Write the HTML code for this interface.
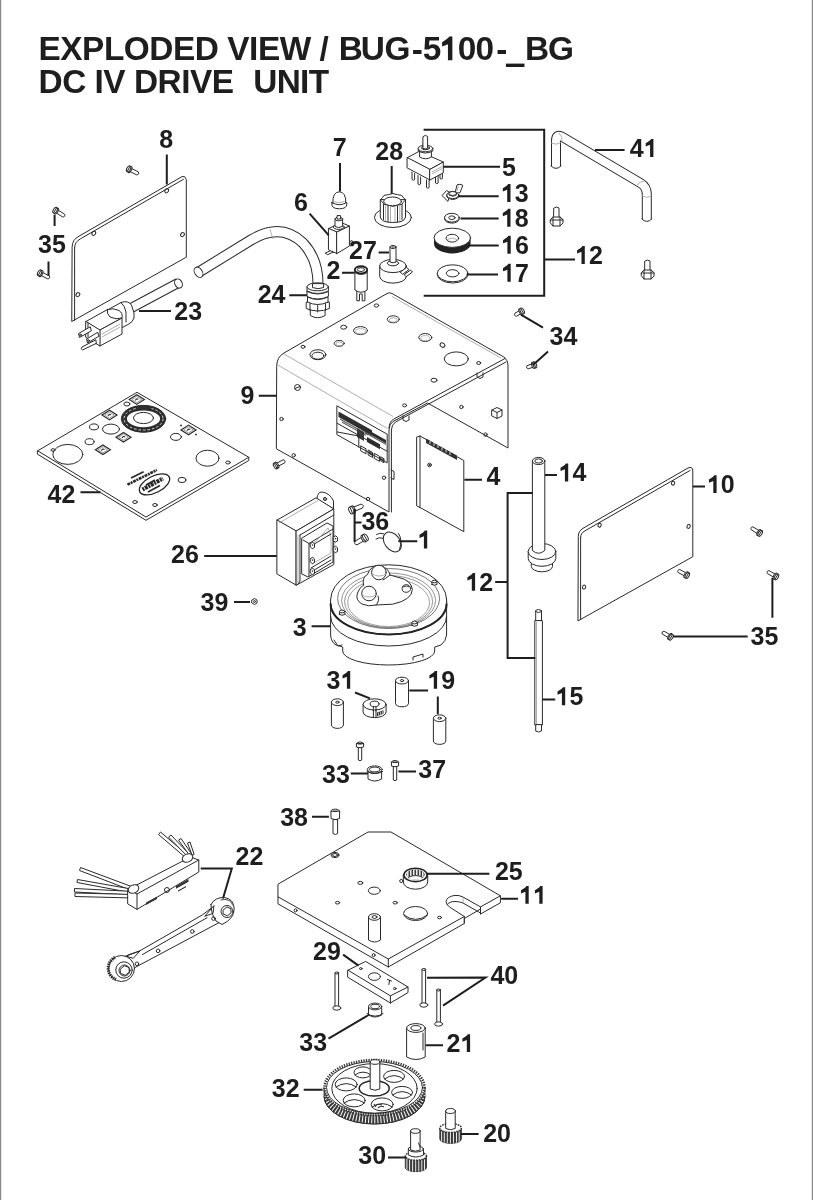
<!DOCTYPE html>
<html><head><meta charset="utf-8"><title>Exploded View BUG-5100</title>
<style>
html,body{margin:0;padding:0;background:#fff;}
body{width:813px;height:1200px;overflow:hidden;position:relative;}
svg{display:block;position:absolute;left:0;top:0;filter:grayscale(1);}
.t{font-family:"Liberation Sans",sans-serif;font-weight:bold;fill:#1e1e1e;}
.lb{font-family:"Liberation Sans",sans-serif;font-weight:bold;font-size:25px;fill:#1e1e1e;}
.ld{stroke:#1e1e1e;stroke-width:2;fill:none;}
.p{stroke:#2a2a2a;stroke-width:1;fill:#fff;stroke-linejoin:round;stroke-linecap:round;}
.pn{stroke:#2a2a2a;stroke-width:1;fill:none;stroke-linejoin:round;stroke-linecap:round;}
.th{stroke:#9a9a9a;stroke-width:.8;fill:none;}
.dk{fill:#2a2a2a;stroke:none;}
</style></head>
<body>
<svg width="813" height="1200" viewBox="0 0 813 1200">
<rect x="0" y="0" width="813" height="1200" fill="#fff"/>
<line x1="0.5" y1="0" x2="0.5" y2="1200" stroke="#8a8a8a" stroke-width="1.4"/>
<line x1="812.5" y1="0" x2="812.5" y2="1200" stroke="#8a8a8a" stroke-width="1.4"/>

<!-- TITLE -->
<text class="t" x="38.50 60.31 82.12 103.93 123.86 149.37 173.03 194.84 218.49 227.30 249.11 257.91 279.72 310.78 319.59 328.40 338.71 360.86 384.52 411.83 422.68 438.79 457.69 475.60 496.20 503.76 524.96 548.02" y="60.3 60.3 60.3 60.3 60.3 60.3 60.3 60.3 60.3 60.3 60.3 60.3 60.3 60.3 60.3 60.3 60.3 60.3 60.3 61.2 60.3 60.3 60.3 60.3 61.2 60.3 60.3 60.3" font-size="33.4" xml:space="preserve">EXPLODED VIEW / BUG-5 00- BG</text>
<path d="M795 0V1466H606Q520 1330 164 1114V852Q400 940 524 991V0Z" transform="translate(439.4 60.3) scale(0.016309 -0.016309)" fill="#1e1e1e"/>
<rect x="505.9" y="63.6" width="18.6" height="3.4" fill="#1e1e1e"/>
<text class="t" x="38.50 62.13 85.75 94.54 103.32 125.10 133.89 157.51 181.14 189.92 211.71 233.49 242.27 253.26 276.68 300.11 308.69" y="93.3" font-size="33.4" xml:space="preserve">DC IV DRIVE&#160; UNIT</text>

<!-- PARTS placeholder -->
<g id="parts">
<!-- Panel 8 -->
<path class="p" d="M72.1 247 Q72.1 239.5 79 236.2 L182 176.6 Q185 175.2 186.3 179.5 V257.2 L72.1 321.3 Z"/>
<path class="pn" d="M74.6 248 Q74.6 241.8 80.5 238.8 L183.5 179.3"/>
<path class="pn" d="M74.6 248 V320.3"/>
<ellipse class="pn" cx="166.7" cy="190.8" rx="1.7" ry="2.2" transform="rotate(35 166.7 190.8)"/>
<ellipse class="pn" cx="93.8" cy="233.3" rx="1.7" ry="2.2" transform="rotate(35 93.8 233.3)"/>
<ellipse class="pn" cx="182.5" cy="234.6" rx="1.7" ry="2.2" transform="rotate(35 182.5 234.6)"/>
<ellipse class="pn" cx="77.9" cy="294.6" rx="1.7" ry="2.2" transform="rotate(35 77.9 294.6)"/>
<!-- screw near 8 -->
<path class="p" d="M129.62 171.27 L136.75 174.90 Q139.64 174.47 138.29 171.87 L131.16 168.24 Z"/><ellipse class="p" cx="130.03" cy="169.57" rx="1.40" ry="3.30" transform="rotate(27.0 130.03 169.57)"/><ellipse class="p" cx="128.61" cy="168.85" rx="1.80" ry="3.30" transform="rotate(27.0 128.61 168.85)"/><path class="pn" d="M127.41 171.20 L129.81 166.49" stroke-width="0.8"/>
<!-- screws 35 left -->
<path class="p" d="M55.95 212.77 L62.73 217.01 Q65.65 216.83 64.53 214.13 L57.75 209.89 Z"/><ellipse class="p" cx="56.51" cy="211.12" rx="1.40" ry="3.30" transform="rotate(32.0 56.51 211.12)"/><ellipse class="p" cx="55.15" cy="210.27" rx="1.80" ry="3.30" transform="rotate(32.0 55.15 210.27)"/><path class="pn" d="M53.75 212.51 L56.55 208.03" stroke-width="0.8"/>
<path class="p" d="M40.62 275.27 L47.75 278.90 Q50.64 278.47 49.29 275.87 L42.16 272.24 Z"/><ellipse class="p" cx="41.03" cy="273.57" rx="1.40" ry="3.30" transform="rotate(27.0 41.03 273.57)"/><ellipse class="p" cx="39.61" cy="272.85" rx="1.80" ry="3.30" transform="rotate(27.0 39.61 272.85)"/><path class="pn" d="M38.41 275.20 L40.81 270.49" stroke-width="0.8"/>
<!-- cord 23 -->
<path d="M120 314 L178 283" stroke="#2a2a2a" stroke-width="10" fill="none"/>
<path d="M120 314 L178 283" stroke="#fff" stroke-width="8" fill="none"/>
<ellipse class="p" cx="178.5" cy="283.5" rx="3.6" ry="4.8" transform="rotate(-28 178.5 283.5)"/>
<path class="p" d="M99 336 L116 326 V333 L100 342.5 Z"/>
<path class="p" d="M102 313 L121 302.5 Q128 300 131.5 305 L134 313 V318 Q133 322 128 324.5 L110 334 Z"/>
<path class="pn" d="M121 302.5 Q125 306 126 312 V322"/>
<path class="p" d="M86 321.5 L107.5 309.5 L122 318 L100 330 Z"/>
<path class="p" d="M100 330 L122 318 V334 L100 346 Z"/>
<path class="p" d="M86 321.5 L100 330 V346 L86 337.5 Z"/>
<path class="pn" d="M88 323 V337"/>
<path class="p" d="M107.5 309.5 Q106 313 110 317 Q116 320 122 318 Q123 313 119 310.5 Q113 307.5 107.5 309.5 Z"/>
<path class="th" d="M102 334 L120 324 M102 337 L120 327"/>
<path class="p" d="M90 327 L78.5 333.5 L79.5 337.5 L91 331 Z"/><circle class="pn" cx="80.5" cy="335" r="0.9"/>
<path class="p" d="M97.5 332.5 L86.5 339 L87.5 343 L98.5 336.5 Z"/><circle class="pn" cx="88.5" cy="340.5" r="0.9"/>
<path class="p" d="M95.5 340 L82 347 Q80 349 82.5 350 L96 343.5 Z"/>
<!-- hose 24 -->
<path d="M199 272 L251 240 Q281 222 303 243 Q318 259 318 284" stroke="#2a2a2a" stroke-width="11" fill="none"/>
<path d="M199 272 L251 240 Q281 222 303 243 Q318 259 318 284" stroke="#fff" stroke-width="9" fill="none"/>
<ellipse class="p" cx="198.5" cy="272.3" rx="3.8" ry="5.6" transform="rotate(-32 198.5 272.3)"/>
<path class="th" d="M270 229.5 L273 239"/>
<!-- 7 cap -->
<path class="p" d="M331.8 204 Q331.5 208.8 339.3 208.8 Q347 208.8 346.8 204 V202.5 H331.8 Z"/>
<path class="p" d="M332.8 203 Q332.5 192 339.3 191.8 Q346 192 345.8 203 Q339.3 206.5 332.8 203 Z"/>
<path class="th" d="M334 201.5 Q339.3 204 344.6 201.5"/>
<!-- 6 switch -->
<path class="p" d="M325.5 253 L333 249.5 L335.5 251 L328 254.5 Z"/>
<path class="p" d="M347 243 L352 240.5 L353 242 L348 244.5 Z"/>
<path class="p" d="M328.8 228.5 L341 222.5 L349.4 226 L337 232 Z"/>
<path class="p" d="M328.8 228.5 L337 232 V253.5 L328.8 250 Z"/>
<path class="p" d="M337 232 L349.4 226 V246 L337 253.5 Z"/>
<ellipse class="p" cx="338.8" cy="227" rx="5.5" ry="2.4"/>
<path class="p" d="M335 219 V226.5 Q338.8 228.5 342.6 226.5 V219 Z"/>
<ellipse class="p" cx="338.8" cy="219" rx="3.8" ry="1.8"/>
<path class="p" d="M337 216 V219 H340.6 V216 Z"/>
<!-- 28 knob -->
<ellipse class="p" cx="392.9" cy="217.5" rx="18.5" ry="10"/>
<path class="p" d="M380.3 200 V217 Q381 222.5 392.9 222.5 Q404.8 222.5 405.5 217 V200 Z"/>
<path class="pn" d="M405.5 199.9 403.4 202.1 401.8 204.4 397.2 205.2 392.9 206.3 388.6 205.2 384.0 204.4 382.4 202.1 380.3 199.9 382.4 197.7 384.0 195.4 388.6 194.6 392.9 193.5 397.2 194.6 401.8 195.4 403.4 197.7Z"/>
<ellipse class="p" cx="392.6" cy="201.4" rx="8.9" ry="4.4"/>
<path class="pn" d="M383.5 204.5 V219.5 M388 206 V221.8 M397.5 206 V221.8 M402 204.5 V219.5"/>
<path class="th" d="M385.6 205.5 V220.8 M390.5 206.3 V222.2 M395 206.3 V222.2 M399.8 205.5 V220.8"/>
<!-- 5 toggle -->
<path class="p" d="M412 172 v7.5 q1.3 1.5 2.6 0 v-6 M418 175.5 v8.5 q1.3 1.5 2.6 0 v-7 M426.5 180 v7.5 q1.3 1.5 2.6 0 v-7 M435.5 177 v6 q1.3 1.5 2.6 0 v-7.5 M440 173.5 v5 q1.2 1.3 2.4 0 v-6"/>
<path class="p" d="M407.4 157.6 L419.2 151.3 L443.3 162 L430 169.4 Z"/>
<path class="p" d="M407.4 157.6 L430 169.4 V180 L407.4 168 Z"/>
<path class="p" d="M430 169.4 L443.3 162 V172.8 L430 180 Z"/>
<path class="th" d="M432 172 L442 166.5 M432 174 L442 168.5"/>
<path class="p" d="M419.6 150 V157 Q425.5 160.5 431.4 157 V150 Z"/>
<path class="p" d="M418.2 148.5 V151 Q425.5 155 432.8 151 V148.5 Z" stroke-width="1.3"/>
<ellipse class="p" cx="425.5" cy="148.5" rx="7.3" ry="3.3" stroke-width="1.3"/>
<ellipse class="pn" cx="425.5" cy="148" rx="4" ry="1.8"/>
<path class="p" d="M423.2 136.5 Q425.4 134 427.6 136.5 V148.5 Q425.4 149.5 423.2 148.5 Z"/>
<!-- 13 wing nut -->
<path class="p" d="M442.3 195.3 L446.6 190.5 L450.6 193.1 L448 201 Z"/>
<path class="p" d="M455 193.1 L457.1 184.8 Q460 183.5 462.8 185.3 L460.2 192.3 Z"/>
<path class="th" d="M458.5 186 L457 191"/>
<path class="p" d="M446.8 195 V197 Q452.8 202 458.8 197 V195 Z"/>
<ellipse class="p" cx="452.8" cy="195" rx="6" ry="3.6"/>
<path class="p" d="M449 193.5 V195 Q452.8 197.5 456.6 195 V193.5 Z"/>
<ellipse class="p" cx="452.8" cy="193.5" rx="3.8" ry="2"/>
<!-- 18 washer -->
<path class="p" d="M444.5 217.7 V218.7 A7.4 4.4 0 0 0 459.3 218.7 V217.7 Z"/>
<ellipse class="p" cx="451.9" cy="217.7" rx="7.4" ry="4.4"/>
<ellipse class="pn" cx="451.9" cy="217.7" rx="3.2" ry="1.8"/>
<!-- 16 thick washer -->
<path d="M434 237.8 V243.8 A18.3 9.6 0 0 0 470.6 243.8 V237.8 Z" fill="#222"/>
<ellipse class="p" cx="452.3" cy="237.8" rx="18.3" ry="9.6"/>
<ellipse class="pn" cx="452.3" cy="238.2" rx="6.3" ry="3.9"/>
<path class="th" d="M447 239.5 Q452 236.5 457 239.5"/>
<!-- 17 washer -->
<path class="p" d="M437.3 273.3 V274.5 A15.3 8.5 0 0 0 467.9 274.5 V273.3 Z"/>
<ellipse class="p" cx="452.6" cy="273.3" rx="15.3" ry="8.5"/>
<ellipse class="pn" cx="452.6" cy="273.3" rx="6.3" ry="3.6"/>
<!-- 27 pot -->
<path class="p" d="M379.7 266 V276.5 A13.3 6.6 0 0 0 406.3 276.5 V266 Z"/>
<ellipse class="p" cx="393" cy="266" rx="13.3" ry="6.6"/>
<path class="p" d="M400.5 272 l6 -4.5 l2.5 2 l-6 4.5 Z M404.5 274.5 l6 -4.5 l2 2 l-6 4.5 Z"/>
<ellipse class="p" cx="393" cy="263.2" rx="5.6" ry="2.6" stroke-width="1.5"/>
<path class="p" d="M390 247 V262 Q393 263.5 396 262 V247 Z"/>
<ellipse class="p" cx="393" cy="247" rx="3" ry="1.5"/>
<path class="pn" d="M392 247 h2"/>
<!-- 2 lamp holder -->
<path class="p" d="M356.8 291 V300.8 H359.5 V294 H362.2 V300.8 H364.9 V291 Z"/>
<path class="p" d="M354.9 270 V290 Q361 294.5 367.2 290 V270 Z"/>
<path class="pn" d="M354.9 272.5 Q361 276.5 367.2 272.5"/>
<ellipse cx="361" cy="269.8" rx="6.2" ry="3.6" fill="#fff" stroke="#222" stroke-width="1.9"/>
<ellipse class="pn" cx="361" cy="269.6" rx="3.6" ry="1.9"/>
<!-- 24 fitting -->
<path class="p" d="M310.3 308 V315.5 Q317.7 320 325.1 315.5 V308 Z"/>
<path class="p" d="M306.2 302.5 V308.5 Q317.7 313.5 329.4 308.5 V302.5 Z"/>
<path class="pn" d="M310 303.5 V310.5 M317.7 305 V312 M325.5 303.5 V310.5"/>
<path class="p" d="M307.5 297 V302 Q317.7 307 328 302 V297 Q317.7 302 307.5 297 Z"/>
<path class="p" d="M307 291.5 V296.5 Q317.7 301.5 328.4 296.5 V291.5 Q317.7 296.5 307 291.5 Z"/>
<path class="p" d="M307 286.8 V291 Q317.7 296 328.4 291 V286.8 Z"/>
<ellipse class="p" cx="317.7" cy="286.8" rx="10.7" ry="4"/>
<path class="p" d="M312.5 284 V287.5 Q318 290 323.6 287.5 V284 Z"/>
<!-- 41 handle -->
<path d="M556 166 V141 Q556 133.2 562.5 137 L640.8 183.3 Q646.8 186.9 646.8 194.5 V219" stroke="#2a2a2a" stroke-width="10" fill="none"/>
<path d="M556 166 V141 Q556 133.2 562.5 137 L640.8 183.3 Q646.8 186.9 646.8 194.5 V219" stroke="#fff" stroke-width="8" fill="none"/>
<path class="pn" d="M551 166 Q556 171 561 166"/>
<path class="pn" d="M641.8 219 Q646.8 224 651.8 219"/>
<path class="th" d="M551 143 Q556 145.5 561 142.5 M559 133 Q563 137 562 142 M636 186 Q640.5 181 644.5 181 M642 196 Q646.8 198.5 651.8 196"/>
<!-- screws near handle -->
<path class="p" d="M554 208 Q556.5 206 559 208 V220 H554 Z"/>
<path class="p" d="M550.5 219.5 L553 217 H560 L563 219.5 V223 L560 226 H553 L550.5 223 Z"/>
<path class="pn" d="M553 217 V226 M560 217 V226 M550.5 220 H563"/>
<path class="p" d="M645 261 Q647.5 259 650 261 V273 H645 Z"/>
<path class="p" d="M641.5 272.5 L644 270 H651 L654 272.5 V276 L651 279 H644 L641.5 276 Z"/>
<path class="pn" d="M644 270 V279 M651 270 V279 M641.5 273 H654"/>
<!-- screws 34 -->
<path class="p" d="M519.58 310.53 L514.82 313.28 Q513.61 315.94 516.52 316.22 L521.28 313.47 Z"/><ellipse class="p" cx="520.78" cy="311.80" rx="1.40" ry="3.30" transform="rotate(150.0 520.78 311.80)"/><ellipse class="p" cx="522.17" cy="311.00" rx="1.80" ry="3.30" transform="rotate(150.0 522.17 311.00)"/><path class="pn" d="M520.85 308.71 L523.49 313.29" stroke-width="0.8"/>
<path class="p" d="M532.32 363.89 L527.09 365.59 Q525.35 367.94 528.14 368.83 L533.37 367.13 Z"/><ellipse class="p" cx="533.23" cy="365.39" rx="1.40" ry="3.30" transform="rotate(162.0 533.23 365.39)"/><ellipse class="p" cx="534.75" cy="364.89" rx="1.80" ry="3.30" transform="rotate(162.0 534.75 364.89)"/><path class="pn" d="M533.94 362.38 L535.57 367.40" stroke-width="0.8"/>
<!-- Chassis 9 -->
<path class="p" d="M276.7 366 Q276.7 357 284 353 L387 293.5 Q389.5 292 392 293.5 L503 356.5 Q508 359.5 508 366 V448 L427.5 403 L393 421.5 Q389 424 389 430 V512 L276.7 449 Z"/>
<path class="pn" d="M505 358.5 L393.5 419.2 Q389.2 421.8 389 428"/>
<path class="pn" d="M506 362 L395.5 422 Q391.6 424.5 391.4 430 V512"/>
<path class="th" d="M284 354 L393 416.5 M277.7 365 L387.5 428.5"/>
<path class="th" d="M392 296.5 L501 358"/>
<!-- inner far panel details -->
<path class="pn" d="M492 410 l5 -2.5 l5 2.5 v6 l-5 2.5 l-5 -2.5 Z M492 410 l5 2.5 l5 -2.5 M497 412.5 v6"/>
<circle class="pn" cx="461.4" cy="407" r="1.7"/><circle class="pn" cx="485.5" cy="434.6" r="1.7"/>
<path class="pn" d="M477 373 v4 l3 1.5 l3 -1.5 v-4 M403 416 v4 l3 1.5 l3 -1.5 v-4"/>
<!-- top holes -->
<ellipse class="pn" cx="376.4" cy="305.5" rx="2.3" ry="1.6"/>
<ellipse class="pn" cx="393.3" cy="319.3" rx="6" ry="3.5"/><ellipse class="th" cx="393.3" cy="320" rx="4" ry="2.2"/>
<ellipse class="pn" cx="343.7" cy="327.2" rx="3" ry="2"/>
<ellipse class="pn" cx="360.5" cy="330.6" rx="7" ry="4"/><ellipse class="th" cx="360.5" cy="331.3" rx="5" ry="2.6"/>
<ellipse class="pn" cx="339.2" cy="343.4" rx="5" ry="3"/><ellipse class="th" cx="339.2" cy="344" rx="3.4" ry="2"/>
<ellipse class="pn" cx="303" cy="346.8" rx="2" ry="1.5"/>
<ellipse class="pn" cx="317.9" cy="354.7" rx="8" ry="5"/><ellipse class="pn" cx="317.9" cy="355.7" rx="6" ry="3.5"/>
<ellipse class="pn" cx="425.3" cy="337.5" rx="6.5" ry="4"/><ellipse class="th" cx="425.3" cy="338.2" rx="4.5" ry="2.6"/>
<ellipse class="pn" cx="442.5" cy="345.1" rx="2.5" ry="2" transform="rotate(30 442.5 345.1)"/>
<ellipse class="pn" cx="456.3" cy="358.9" rx="12" ry="7"/>
<ellipse class="pn" cx="478.7" cy="363" rx="2" ry="1.5"/>
<ellipse class="pn" cx="434" cy="380.2" rx="3" ry="2"/>
<ellipse class="pn" cx="404.6" cy="405.4" rx="2" ry="1.5"/>
<!-- left panel holes -->
<circle class="pn" cx="297.5" cy="387.5" r="3"/><path class="pn" d="M295 388.5 l5 -2"/>
<circle class="pn" cx="281.5" cy="419" r="1.7"/><circle class="pn" cx="293.7" cy="455.3" r="1.7"/>
<circle class="pn" cx="384" cy="477.7" r="1.7"/><circle class="pn" cx="368" cy="499" r="1.7"/>
<path class="pn" d="M391 470 l3 1.5 v8 l-3 -1.5"/>
<!-- label plate -->
<path class="p" d="M337.2 406 L387.2 434.2 V462.8 L337.2 434.8 Z" stroke-width="1.2"/>
<path d="M338.5 411.5 L372 430.3 V435.8 L338.5 417.0 Z" fill="#2e2e2e"/><path d="M340 418.5 L368 434.2 V435.4 L340 419.7 Z" fill="#555"/><path d="M342 421.5 L366 434.9 V436.1 L342 422.7 Z" fill="#555"/><path d="M362 426.5 L386 439.9 V443.4 L362 430.0 Z" fill="#2e2e2e"/><path d="M365 432 L386 443.8 V445.0 L365 433.2 Z" fill="#555"/><path d="M367 437 L380 444.3 V449.3 L367 442 Z" fill="#2e2e2e"/><path d="M357 428 L364 431.9 V440.9 L357 437 Z" fill="#3a3a3a"/><path class="pn" d="M337.4 423.4 L387 451.2 M358.8 435.2 V447 M337.4 432 L358.8 436"/>
<path class="pn" d="M361 446 l5 2.8 v5 l-5 -2.8 Z M368.5 450.2 l4 2.2 v5 l-4 -2.2 Z M374.5 453.5 l5 2.8 v5 l-5 -2.8 Z M381 457 l3 1.7 v4 l-3 -1.7 Z"/>
<path d="M369 451 l3 1.7 v3 l-3 -1.7 Z M381.5 458 l2.5 1.4 v2.5 l-2.5 -1.4 Z" fill="#3a3a3a"/>
<!-- screw left of chassis -->
<path class="p" d="M278.08 466.33 L284.70 462.81 Q286.01 460.19 283.11 459.81 L276.48 463.33 Z"/><ellipse class="p" cx="276.93" cy="465.02" rx="1.40" ry="3.30" transform="rotate(-28.0 276.93 465.02)"/><ellipse class="p" cx="275.52" cy="465.77" rx="1.80" ry="3.30" transform="rotate(-28.0 275.52 465.77)"/><path class="pn" d="M276.76 468.10 L274.28 463.44" stroke-width="0.8"/>
<!-- Panel 42 -->
<path class="p" d="M37.7 450.8 L137 392.3 L248.8 457.3 V460.5 L146 520.3 L37.7 454.3 Z"/>
<path class="pn" d="M37.7 450.8 L146 517 L248.8 457.3"/>
<ellipse class="pn" cx="67.8" cy="454.4" rx="15" ry="10"/>
<ellipse class="pn" cx="207.5" cy="458.2" rx="11.5" ry="8"/>
<ellipse cx="143.5" cy="418.8" rx="19.2" ry="11" fill="#fff" stroke="#2e2e2e" stroke-width="5.2"/>
<ellipse cx="143.5" cy="418.8" rx="19.5" ry="11.3" fill="none" stroke="#fff" stroke-width="0.8" stroke-dasharray="2.5 2"/>
<ellipse class="pn" cx="143.5" cy="418.8" rx="22.2" ry="13.4"/>
<ellipse class="p" cx="143.5" cy="418" rx="10" ry="5.6"/>
<path d="M136 407 l10 -1 l6 2 l-2 2 l-13 0 Z" fill="#2e2e2e"/>
<ellipse class="pn" cx="126.9" cy="404" rx="3" ry="2"/>
<ellipse class="pn" cx="94" cy="426.9" rx="4.5" ry="3"/>
<ellipse class="pn" cx="111" cy="429.1" rx="8.5" ry="5"/>
<ellipse class="pn" cx="89.6" cy="441.7" rx="4.5" ry="3"/>
<ellipse class="pn" cx="175.9" cy="436.9" rx="5.5" ry="3.5"/>
<path d="M129.3 399.6 L136.8 394.8 L144.3 399.6 L136.8 404.40000000000003 Z" fill="#fff" stroke="#2a2a2a" stroke-width="1.2"/><path d="M131.9 399.6 L136.8 396.5 L141.70000000000002 399.6 L136.8 402.70000000000005 Z" fill="none" stroke="#555" stroke-width="0.6"/><path d="M135.3 400.40000000000003 q1.5 -2.5 3 -1" fill="none" stroke="#2a2a2a" stroke-width="1.1"/><path d="M102.0 415.1 L109.5 410.3 L117.0 415.1 L109.5 419.90000000000003 Z" fill="#fff" stroke="#2a2a2a" stroke-width="1.2"/><path d="M104.6 415.1 L109.5 412.0 L114.4 415.1 L109.5 418.20000000000005 Z" fill="none" stroke="#555" stroke-width="0.6"/><path d="M108.0 415.90000000000003 q1.5 -2.5 3 -1" fill="none" stroke="#2a2a2a" stroke-width="1.1"/><path d="M116.0 437.2 L123.5 432.4 L131.0 437.2 L123.5 442.0 Z" fill="#fff" stroke="#2a2a2a" stroke-width="1.2"/><path d="M118.6 437.2 L123.5 434.09999999999997 L128.4 437.2 L123.5 440.3 Z" fill="none" stroke="#555" stroke-width="0.6"/><path d="M122.0 438.0 q1.5 -2.5 3 -1" fill="none" stroke="#2a2a2a" stroke-width="1.1"/><path d="M95.4 449.8 L102.9 445.0 L110.4 449.8 L102.9 454.6 Z" fill="#fff" stroke="#2a2a2a" stroke-width="1.2"/><path d="M98.0 449.8 L102.9 446.7 L107.80000000000001 449.8 L102.9 452.90000000000003 Z" fill="none" stroke="#555" stroke-width="0.6"/><path d="M101.4 450.6 q1.5 -2.5 3 -1" fill="none" stroke="#2a2a2a" stroke-width="1.1"/><path d="M181.0 429.9 L188.5 425.09999999999997 L196.0 429.9 L188.5 434.7 Z" fill="#fff" stroke="#2a2a2a" stroke-width="1.2"/><path d="M183.6 429.9 L188.5 426.79999999999995 L193.4 429.9 L188.5 433.0 Z" fill="none" stroke="#555" stroke-width="0.6"/><path d="M187.0 430.7 q1.5 -2.5 3 -1" fill="none" stroke="#2a2a2a" stroke-width="1.1"/>
<circle cx="181" cy="425.5" r="0.9" fill="#2a2a2a"/><circle cx="196" cy="434.5" r="0.9" fill="#2a2a2a"/>
<ellipse class="pn" cx="53" cy="450" rx="2" ry="1.3"/>
<ellipse class="pn" cx="228" cy="462.5" rx="2.3" ry="1.5"/>
<ellipse class="pn" cx="182" cy="480" rx="4" ry="2.6"/>
<ellipse class="pn" cx="135" cy="502" rx="2.3" ry="1.5"/>
<ellipse class="pn" cx="155" cy="505" rx="2.3" ry="1.5"/>
<ellipse cx="154.5" cy="484.4" rx="16.5" ry="8.3" transform="rotate(-27 154.5 484.4)" fill="none" stroke="#222" stroke-width="1.3"/>
<path d="M142.5 489.5 L163 478.5" stroke="#2a2a2a" stroke-width="4.2" stroke-dasharray="2 0.8 3 0.8" fill="none"/>
<path d="M148 492 L160 485.5 M146 485 L155 480" stroke="#2a2a2a" stroke-width="1.6" fill="none"/>
<path d="M131 478 L143.6 471.8" stroke="#2a2a2a" stroke-width="1.8" fill="none"/>
<path d="M127.4 484.7 L156.9 470" stroke="#2a2a2a" stroke-width="2.6" stroke-dasharray="3 0.7 2 0.7" fill="none"/>
<!-- PCB 4 -->
<path class="p" d="M417 437 L420 436 L463.8 460.5 V531.7 L420 507.5 L417 506 Z"/>
<path class="pn" d="M420 436 V507.5"/>
<path d="M426 438.5 L457 455.5 V460 L426 443 Z" fill="#333"/>
<path d="M430 441 v3 M434 443 v3 M438 445 v3 M442 447.5 v3 M446 449.5 v3 M450 452 v3" stroke="#fff" stroke-width="0.8"/>
<circle class="pn" cx="429.5" cy="465" r="1.8"/><circle cx="429.5" cy="465" r="0.9" fill="#2a2a2a"/>
<!-- Transformer 26 -->
<path class="p" d="M317 498 Q317.5 492 322 492 Q330 493 333.5 501 V509 L317 499 Z"/>
<circle class="pn" cx="325" cy="499" r="1.6"/><circle cx="325" cy="499" r="0.8" fill="#2a2a2a"/>
<path class="p" d="M277.2 520 L316 497.8 L333.8 508.9 L296.3 531 Z"/>
<path class="p" d="M277.2 520 L296.3 531 V585.2 L277.2 574.1 Z"/>
<path class="p" d="M296.3 531 L333.8 508.9 V564.5 L296.3 585.2 Z"/>
<path class="th" d="M279 523 L318 500.5 M298 535 V583"/>
<path class="pn" d="M300 535 L333.8 515 M300 535 V581 L298 584"/>
<path class="p" d="M302 538 L327 523 L333 526 V562 L308 577 L302 574 Z"/>
<path class="pn" d="M303 540 L309 543.5 V576 M309 543.5 L333 529"/>
<path class="th" d="M311 546 Q322 535 328 528 Q332 534 331 553 L312 564"/>
<path class="pn" d="M311 546 L331 534 M311 568 L331 556 M311 572 L331 560"/>
<path class="p" d="M310.5 543.5 l2.2 -1.2 l1.8 1.6 v3.6 l-2.2 1.2 l-1.8 -1.6 Z"/><circle cx="312.5" cy="545.1" r="0.8" fill="#333"/><path class="p" d="M310.5 558.5 l2.2 -1.2 l1.8 1.6 v3.6 l-2.2 1.2 l-1.8 -1.6 Z"/><circle cx="312.5" cy="560.1" r="0.8" fill="#333"/><path class="p" d="M310.5 569.5 l2.2 -1.2 l1.8 1.6 v3.6 l-2.2 1.2 l-1.8 -1.6 Z"/><circle cx="312.5" cy="571.1" r="0.8" fill="#333"/>
<path class="p" d="M333.5 537 l2.2 -1.2 l1.8 1.6 v3.6 l-2.2 1.2 l-1.8 -1.6 Z"/><circle cx="335.5" cy="538.6" r="0.8" fill="#333"/><path class="p" d="M333.5 547.5 l2.2 -1.2 l1.8 1.6 v3.6 l-2.2 1.2 l-1.8 -1.6 Z"/><circle cx="335.5" cy="549.1" r="0.8" fill="#333"/>
<!-- screws 36 -->
<path class="p" d="M354.49 511.26 L362.56 508.00 Q364.50 504.95 360.99 504.11 L352.92 507.37 Z"/><ellipse class="p" cx="353.22" cy="509.51" rx="1.82" ry="3.80" transform="rotate(-22.0 353.22 509.51)"/><ellipse class="p" cx="351.29" cy="510.29" rx="2.34" ry="3.80" transform="rotate(-22.0 351.29 510.29)"/><path class="pn" d="M352.43 513.11 L350.16 507.47" stroke-width="0.8"/>
<path class="p" d="M362.12 537.03 L355.02 541.13 Q353.53 544.42 357.12 544.77 L364.22 540.67 Z"/><ellipse class="p" cx="363.62" cy="538.59" rx="1.82" ry="3.80" transform="rotate(150.0 363.62 538.59)"/><ellipse class="p" cx="365.43" cy="537.55" rx="2.34" ry="3.80" transform="rotate(150.0 365.43 537.55)"/><path class="pn" d="M363.91 534.92 L366.95 540.18" stroke-width="0.8"/>
<!-- disc 1 -->
<ellipse class="p" cx="392.3" cy="542" rx="11" ry="7.6" transform="rotate(52 392.3 542)"/>
<path class="pn" d="M398.5 533.5 Q403 540 399.5 549.5" stroke-width="0.8"/>
<path class="pn" d="M376.5 534.5 q3 -2.2 7 -0.8 M376 539 q3 -2.2 7 -0.8" stroke-width="1.2"/>
<!-- nut 39 -->
<path class="p" d="M252 600 l2.5 -1.5 l2.5 1.5 v3 l-2.5 1.5 l-2.5 -1.5 Z"/><circle class="pn" cx="254.5" cy="601.5" r="1"/>
<!-- Motor 3 -->
<path class="p" d="M330.6 600 V635 Q331 642 336 645 L342.7 647 V651 A46 14 0 0 0 434.7 651 V647 L441 645 Q446 641 446.6 635 V600 Z"/>
<path class="pn" d="M330.6 616.5 A58 29.5 0 0 0 446.6 616.5"/>
<path class="pn" d="M334 640 l4 6 l4 -1 M413 660 v-3 l10 -3 v3"/>
<path class="p" d="M330.6 603.5 V600 A58 35.2 0 0 1 446.6 600 V603.5 A58 31 0 0 1 330.6 603.5 Z"/>
<path d="M330.6 603.5 A58 31 0 0 0 446.6 603.5" fill="none" stroke="#222" stroke-width="2"/>
<ellipse cx="388.6" cy="598.5" rx="51" ry="30" fill="none" stroke="#555" stroke-width="0.8"/>
<ellipse cx="388.6" cy="600.5" rx="47" ry="27.5" fill="none" stroke="#666" stroke-width="0.7"/>
<ellipse cx="388.6" cy="601.5" rx="44" ry="26" fill="none" stroke="#666" stroke-width="0.7"/>
<ellipse cx="388.6" cy="602.5" rx="41" ry="24" fill="none" stroke="#777" stroke-width="0.7"/>
<path class="p" d="M363.5 585 Q362 577 367.5 574.5 Q370 566 379 566 Q388 566.5 390 575 L399 577.6 Q411 580 412.4 589.4 Q412 600 392.6 604.2 L376 605 Q368 607 362 604 Q355 600 357.5 593 Q359 588 363.5 585 Z"/>
<path class="pn" d="M376 605 Q380 601 378 596 M390 575 Q385 579 383 580"/>
<circle class="p" cx="378.9" cy="572.5" r="7.3"/>
<path class="th" d="M372 574 Q378.9 578 386 574"/>
<circle class="p" cx="369" cy="593.5" r="7.3"/>
<path class="th" d="M362 595 Q369 599 376 595"/>
<ellipse class="p" cx="406.4" cy="588.5" rx="4.3" ry="3.8"/>
<path d="M403 587 q3.4 -2 6.8 0" fill="none" stroke="#333" stroke-width="1"/>
<path class="p" d="M339.5 614.5 v-3 q2.7 -1.6 5.4 0 v3 q-2.7 1.6 -5.4 0 Z"/><ellipse class="p" cx="342.2" cy="611.5" rx="2.7" ry="1.4"/>
<path class="p" d="M412 625.5 v-3 q2.7 -1.6 5.4 0 v3 q-2.7 1.6 -5.4 0 Z"/><ellipse class="p" cx="414.7" cy="622.5" rx="2.7" ry="1.4"/>
<path class="p" d="M432 584.5 v-3 q2.5 -1.5 5 0 v3 q-2.5 1.5 -5 0 Z"/><ellipse class="p" cx="434.5" cy="581.5" rx="2.5" ry="1.3"/>
<!-- Rod 14 -->
<path class="p" d="M531.3 563 V566.3 A10.6 5.5 0 0 0 552.5 566.3 V563 Z"/>
<path class="p" d="M528.2 551.5 V558.3 A13.8 8 0 0 0 555.8 558.3 V551.5 Z"/>
<ellipse class="p" cx="542" cy="551.5" rx="13.8" ry="8"/>
<path class="p" d="M532.4 461 V550.5 Q538.6 556 544.8 550.5 V461 Z"/>
<ellipse class="p" cx="538.6" cy="461" rx="6.2" ry="3.6"/>
<ellipse class="pn" cx="538.6" cy="461" rx="3.8" ry="2.1"/>
<!-- Rod 15 -->
<path class="p" d="M535.7 611 V621 H541.5 V611 Z"/><ellipse class="p" cx="538.6" cy="611" rx="2.9" ry="1.4"/>
<path class="p" d="M534.8 621 V725 H542.4 V621 Z"/>
<path class="th" d="M536.5 622 V724"/>
<path class="p" d="M535.7 725 V731 Q538.6 733 541.5 731 V725 Z"/>
<!-- Panel 10 -->
<path class="p" d="M578.3 536 Q578.3 531 583 528.3 L688 468 Q692.8 466 692.8 471 V556.7 L578.3 620.7 Z"/>
<path class="pn" d="M580.6 537.5 Q580.6 533 585 530.8 L690 470.5"/>
<path class="pn" d="M580.6 537.5 V619.5"/>
<ellipse class="pn" cx="673.1" cy="483.2" rx="1.6" ry="2" transform="rotate(20 673.1 483.2)"/>
<ellipse class="pn" cx="599.6" cy="525.2" rx="1.6" ry="2" transform="rotate(20 599.6 525.2)"/>
<ellipse class="pn" cx="688.6" cy="526.4" rx="1.6" ry="2" transform="rotate(20 688.6 526.4)"/>
<ellipse class="pn" cx="584.1" cy="587.1" rx="1.6" ry="2" transform="rotate(20 584.1 587.1)"/>
<!-- screws 35 right -->
<path class="p" d="M759.35 530.83 L752.99 526.85 Q750.07 527.03 751.19 529.74 L757.55 533.71 Z"/><ellipse class="p" cx="758.79" cy="532.48" rx="1.40" ry="3.30" transform="rotate(212.0 758.79 532.48)"/><ellipse class="p" cx="760.15" cy="533.33" rx="1.80" ry="3.30" transform="rotate(212.0 760.15 533.33)"/><path class="pn" d="M761.55 531.09 L758.75 535.57" stroke-width="0.8"/>
<path class="p" d="M686.32 573.03 L679.69 569.51 Q676.79 569.89 678.10 572.51 L684.72 576.03 Z"/><ellipse class="p" cx="685.87" cy="574.72" rx="1.40" ry="3.30" transform="rotate(208.0 685.87 574.72)"/><ellipse class="p" cx="687.28" cy="575.47" rx="1.80" ry="3.30" transform="rotate(208.0 687.28 575.47)"/><path class="pn" d="M688.52 573.14 L686.04 577.80" stroke-width="0.8"/>
<path class="p" d="M775.58 574.33 L769.09 570.58 Q766.18 570.86 767.39 573.52 L773.88 577.27 Z"/><ellipse class="p" cx="775.08" cy="576.00" rx="1.40" ry="3.30" transform="rotate(210.0 775.08 576.00)"/><ellipse class="p" cx="776.47" cy="576.80" rx="1.80" ry="3.30" transform="rotate(210.0 776.47 576.80)"/><path class="pn" d="M777.79 574.51 L775.15 579.09" stroke-width="0.8"/>
<path class="p" d="M670.18 634.73 L664.12 631.23 Q661.21 631.51 662.42 634.17 L668.48 637.67 Z"/><ellipse class="p" cx="669.68" cy="636.40" rx="1.40" ry="3.30" transform="rotate(210.0 669.68 636.40)"/><ellipse class="p" cx="671.07" cy="637.20" rx="1.80" ry="3.30" transform="rotate(210.0 671.07 637.20)"/><path class="pn" d="M672.39 634.91 L669.75 639.49" stroke-width="0.8"/>
<!-- spacers 19 -->
<path class="p" d="M395.5 680.6 V703.4 A6.5 3.4 0 0 0 408.5 703.4 V680.6 Z"/><ellipse class="p" cx="402" cy="680.6" rx="6.5" ry="3.4"/><ellipse class="pn" cx="402" cy="680.6" rx="1.7" ry="1"/>
<path class="p" d="M331.4 702.1999999999999 V725.0 A6 3.4 0 0 0 343.4 725.0 V702.1999999999999 Z"/><ellipse class="p" cx="337.4" cy="702.1999999999999" rx="6" ry="3.4"/><ellipse class="pn" cx="337.4" cy="702.1999999999999" rx="1.7" ry="1"/>
<path class="p" d="M433.40000000000003 718.1999999999999 V741.0 A6.2 3.4 0 0 0 445.8 741.0 V718.1999999999999 Z"/><ellipse class="p" cx="439.6" cy="718.1999999999999" rx="6.2" ry="3.4"/><ellipse class="pn" cx="439.6" cy="718.1999999999999" rx="1.7" ry="1"/>
<!-- collar 31 -->
<path class="p" d="M363.1 704.4 V712 A11.5 5.6 0 0 0 386.1 712 V704.4 Z"/>
<ellipse class="p" cx="374.6" cy="704.4" rx="11.5" ry="5.6"/>
<ellipse class="pn" cx="374.6" cy="703.9" rx="4.5" ry="2.8"/>
<path class="pn" d="M373.4 706.6 V711 M376 706.6 V711 M373.4 710 V717.5 M376 710 V717.5"/>
<path d="M377 712.5 l6.5 -2.2 v3.5 l-6.5 2.4 Z" fill="#333"/>
<path d="M378.5 712.5 v3 M380.5 711.8 v3 M382.3 711.2 v3" stroke="#fff" stroke-width="0.6"/>
<!-- screw above 33 -->
<ellipse class="p" cx="360" cy="744" rx="3.6" ry="2"/><path class="p" d="M356.4 744 V747 Q360 749 363.6 747 V744 Z"/>
<path class="p" d="M358.3 748 V760 Q360 761.5 361.7 760 V748 Z"/>
<path class="pn" d="M358.5 744 h3"/>
<!-- bushing 33 -->
<path class="p" d="M368 770 V779 Q374.8 783 381.6 779 V770 Z"/>
<ellipse class="p" cx="374.8" cy="769.5" rx="7.5" ry="3.6"/>
<ellipse class="pn" cx="374.8" cy="769.5" rx="5.5" ry="2.4"/>
<path class="pn" d="M367 771.5 Q374.8 776 382.6 771.5"/>
<!-- screw 37 -->
<ellipse class="p" cx="395" cy="762.5" rx="3.6" ry="2"/><path class="p" d="M391.4 762.5 V766 Q395 768 398.6 766 V762.5 Z"/>
<path class="p" d="M393.3 767 V780 Q395 781.5 396.7 780 V767 Z"/>
<path class="pn" d="M393.5 762.5 h3"/>
<!-- screw 38 -->
<ellipse class="p" cx="335.3" cy="811.5" rx="4.3" ry="2.3"/><path class="p" d="M331 811.5 V818.5 Q335.3 821 339.6 818.5 V811.5 Z"/>
<path class="pn" d="M333.5 811.5 h3.6"/>
<path class="p" d="M333 820 V833.5 Q335.3 835.5 337.6 833.5 V820 Z"/>
<!-- Plate 11 -->
<path class="p" d="M278.3 884 L368 832 H391 L500.4 895.8 V902.8 L480.5 914 V909 L464.3 918.5 V923.5 L388.3 967 L278.3 904 Z"/>
<path class="pn" d="M278.3 897 L388.3 959 L464.3 916.5 M388.3 959 V967 M464.3 916.5 V923"/>
<path class="pn" d="M500.4 895.8 L480.5 906.9 V914 M480.5 906.9 L463 897 Q459 895 455 895.4 Q447 896.5 446 901.5 Q446.5 905 449.5 907 L464.3 916.5"/>
<path class="pn" d="M447.5 904.5 Q449 901.5 455 901.5 Q460 901.5 463 903 L480.5 913"/>
<path class="th" d="M463 897 V903"/>
<circle class="pn" cx="295.6" cy="910.4" r="1.5"/><circle class="pn" cx="373.6" cy="955.1" r="1.5"/>
<ellipse class="p" cx="335" cy="855" rx="4" ry="2.6"/><ellipse class="pn" cx="335" cy="855" rx="2.4" ry="1.5"/>
<ellipse class="pn" cx="374.3" cy="890.7" rx="6" ry="3.6"/>
<ellipse class="pn" cx="360.3" cy="882.9" rx="2.5" ry="1.5"/>
<ellipse class="pn" cx="337.5" cy="902.7" rx="2.2" ry="1.3"/>
<ellipse class="pn" cx="395.2" cy="902.7" rx="2.2" ry="1.3"/>
<ellipse class="pn" cx="439.5" cy="917.5" rx="2" ry="1.3"/>
<ellipse class="pn" cx="415.6" cy="913.5" rx="12" ry="7"/>
<path class="pn" d="M404 915 Q415.6 924 427.5 915"/>
<!-- spacer on plate -->
<path class="p" d="M368.5 917 V940 Q374.5 944 380.5 940 V917 Z"/><ellipse class="p" cx="374.5" cy="917" rx="6" ry="3.3"/><ellipse class="pn" cx="374.5" cy="917" rx="2.5" ry="1.4"/>
<!-- bearing 25 -->
<path class="p" d="M403.3 874.9 V882 A12.2 7.2 0 0 0 427.7 882 V874.9 Z"/>
<ellipse cx="415.5" cy="874.9" rx="11.6" ry="6.7" fill="#fff" stroke="#222" stroke-width="1.6"/>
<clipPath id="brg"><ellipse cx="415.5" cy="874.6" rx="9.2" ry="5"/></clipPath>
<ellipse cx="415.5" cy="874.6" rx="9.2" ry="5" fill="#3a3a3a"/>
<g clip-path="url(#brg)" stroke="#fff" stroke-width="1.4"><path d="M407.8 868V882M410.8 868V882M413.8 868V882M416.8 868V882M419.8 868V882M422.8 868V882"/>
<ellipse cx="415.5" cy="879.2" rx="8" ry="3.6" fill="#fff" stroke="#333" stroke-width="1"/></g>
<circle class="p" cx="401.3" cy="881" r="1.6"/>
<!-- Tools 22 : hex keys -->
<path class="p" d="M133 891 L79.5 870.5 L80.5 867.5 L134 887.5 Z"/>
<path class="p" d="M133 893 L77 882.5 L77.5 879.5 L134 889.5 Z"/>
<path class="p" d="M133 895 L74.5 892 L74.5 888.5 L134 891.5 Z"/>
<path class="p" d="M133 898 L75 896.5 L75 893 L134 894.5 Z"/>
<path class="p" d="M186 858 L158.5 834.5 L160.5 832 L188 855.5 Z"/>
<path class="p" d="M188 857 L168.5 837 L171 835 L190 855 Z"/>
<path class="p" d="M190 856 L178.5 840 L181 838.5 L192 854.5 Z"/>
<path class="p" d="M192 855 L187.5 843 L190 842 L194 854 Z"/>
<path class="p" d="M128 889.5 L190.5 857 L198.8 860 V872 L137 909.4 L128 904 Z"/>
<path class="pn" d="M128 889.5 L137 894 L198.8 860 M137 894 V909.4"/>
<ellipse class="p" cx="133.5" cy="889" rx="5.5" ry="4" transform="rotate(-25 133.5 889)"/>
<ellipse class="p" cx="187.5" cy="858" rx="5.5" ry="4" transform="rotate(-25 187.5 858)"/>
<path d="M146 902.5 l11 -6 v2.6 l-11 6 Z M176 886 l12.5 -7 v2.8 l-12.5 7 Z M178 890.5 l8 -4.5 v1.2 l-8 4.5 Z" fill="#333"/>
<circle class="pn" cx="167" cy="890" r="2.5"/>
<!-- wrench -->
<path class="p" d="M128 955 L139.7 950.9 L202.4 914.9 L214 906 L222 921 L135 967.5 L126 972 Z"/>
<path class="pn" d="M142.4 954.6 L207 917.7"/>
<path class="p" d="M211 904.5 Q215 897 224.5 897.5 Q234 899 234.2 909 Q234 919 222 924.5 L216 921 Q211 914 211 904.5 Z"/>
<path class="pn" d="M221 900 Q230 898 232.5 905" stroke-width="2.2" stroke-dasharray="1.2 0.9"/>
<circle class="p" cx="227" cy="911.5" r="6"/>
<path class="pn" d="M223.3 910 l3.6 -3 l4 1.6 l0.2 4.2 l-3.6 3 l-4 -1.6 Z"/>
<path class="pn" d="M205 916 L214 905.5 L213 913 Z"/>
<circle class="p" cx="121.5" cy="968.5" r="13"/>
<path d="M115 957.5 A12 12 0 0 0 116 979.5" fill="none" stroke="#2a2a2a" stroke-width="3.2" stroke-dasharray="1.3 0.9"/>
<circle class="p" cx="124" cy="970" r="8.2"/>
<circle class="pn" cx="124.5" cy="970.5" r="5.5"/>
<path class="pn" d="M120.5 969 l4 -3.3 l4.5 1.8 l0.3 4.5 l-4 3.3 l-4.5 -1.8 Z"/>
<path class="pn" d="M126 956 L140 951 L133.5 958 Z"/>
<circle class="pn" cx="213.5" cy="918.6" r="1.8"/><circle class="pn" cx="192.3" cy="931.5" r="1.8"/>
<circle class="pn" cx="158.1" cy="950.9" r="1.8"/><circle class="pn" cx="136.9" cy="963.8" r="1.8"/>
<!-- Block 29 -->
<path class="p" d="M348 970.2 L365.6 961.4 L408 987 V992.6 L390.4 1003 L348 977.4 Z"/>
<path class="pn" d="M348 970.2 L390.4 995.8 L408 987 M390.4 995.8 V1003"/>
<ellipse class="pn" cx="374.4" cy="976.6" rx="6" ry="3.8"/>
<ellipse class="pn" cx="360.8" cy="968.6" rx="1.3" ry="1"/><ellipse class="pn" cx="394.8" cy="988.6" rx="1.3" ry="1"/>
<path class="pn" d="M387.5 979.5 l4 1.6 M389.5 980.3 l-0.6 4.2"/>
<!-- pins 40 -->
<path class="p" d="M335 973 V1007 H338.6 V973 Z"/><ellipse class="p" cx="336.8" cy="973" rx="1.8" ry="1"/>
<ellipse class="p" cx="336.8" cy="1008" rx="4" ry="2.2"/>
<path class="p" d="M422 969.5 V1004 H425.6 V969.5 Z"/><ellipse class="p" cx="423.8" cy="969.5" rx="1.8" ry="1"/>
<ellipse class="p" cx="423.8" cy="1005" rx="4" ry="2.2"/>
<path class="p" d="M436.8 990 V1023 H440.4 V990 Z"/><ellipse class="p" cx="438.6" cy="990" rx="1.8" ry="1"/>
<ellipse class="p" cx="438.6" cy="1024" rx="4" ry="2.2"/>
<!-- bushing 33 lower -->
<path class="p" d="M368.5 1006.5 V1015 Q375.1 1019 381.7 1015 V1006.5 Z"/>
<ellipse class="p" cx="375.1" cy="1006.5" rx="6.6" ry="3.4"/>
<ellipse class="pn" cx="375.1" cy="1006.5" rx="4.4" ry="2.2"/>
<path class="pn" d="M367 1013.5 Q375.1 1019 383 1013.5"/>
<!-- sleeve 21 -->
<path class="p" d="M406.6 1028 V1057 Q415.9 1062 425.2 1057 V1028 Z"/>
<ellipse class="p" cx="415.9" cy="1028" rx="9.3" ry="4.4"/>
<ellipse class="pn" cx="415.9" cy="1028" rx="5" ry="2.4"/>
<path class="pn" d="M423 1033 V1050"/>
<!-- Gear 32 -->
<clipPath id="gclip"><path d="M324.0 1087.5 A50.5 28 0 0 0 425.0 1087.5 V1096.0 A50.5 28 0 0 1 324.0 1096.0 Z"/></clipPath>
<path d="M324.0 1087.5 A50.5 28 0 0 0 425.0 1087.5 V1096.0 A50.5 28 0 0 1 324.0 1096.0 Z" fill="#3c3c3c" stroke="#2a2a2a" stroke-width="0.8"/>
<ellipse cx="374.5" cy="1092.25" rx="50.5" ry="28" fill="none" stroke="#fff" stroke-width="11.5" stroke-dasharray="1 2.1" clip-path="url(#gclip)"/>
<path d="M324.0 1096.0 A50.5 28 0 0 0 425.0 1096.0" fill="none" stroke="#2a2a2a" stroke-width="1"/>
<ellipse cx="374.5" cy="1087.5" rx="50.0" ry="27.5" fill="#fff" stroke="#333" stroke-width="2.6" stroke-dasharray="1.3 1.2"/>
<ellipse class="pn" cx="374.5" cy="1087.5" rx="48.0" ry="26"/>
<ellipse class="pn" cx="374.5" cy="1088.4" rx="42.7" ry="24.8" stroke-width="1.3"/>
<ellipse class="pn" cx="346.2" cy="1084.4" rx="11" ry="6.5"/><path class="pn" d="M336 1087 Q346.2 1080 356.4 1087"/>
<ellipse class="pn" cx="363" cy="1072.4" rx="9" ry="5.5"/><path class="pn" d="M355 1075 Q363 1069 371 1075"/>
<ellipse class="pn" cx="394.1" cy="1076.4" rx="10.5" ry="6"/><path class="pn" d="M384.5 1079 Q394.1 1072 403.7 1079"/>
<ellipse class="pn" cx="402.1" cy="1092.4" rx="10.5" ry="6"/><path class="pn" d="M392.5 1095 Q402.1 1088 411.7 1095"/>
<ellipse class="pn" cx="354.2" cy="1100.4" rx="11" ry="6.5"/><path class="pn" d="M344 1103 Q354.2 1096 364.4 1103"/>
<ellipse class="pn" cx="382.2" cy="1104.4" rx="11" ry="6.5"/><path class="pn" d="M372 1107 Q382.2 1100 392.4 1107"/>
<path d="M375 1106 q3 -3 7 -1 M378 1108 q3 -3 6 -1 M374 1104 l2 3" fill="none" stroke="#333" stroke-width="1.1"/>
<ellipse cx="374.2" cy="1088.4" rx="15" ry="7.7" fill="#fff" stroke="#222" stroke-width="1.5"/>
<path class="p" d="M370.2 1062 V1089 Q375 1091.5 379.8 1089 V1062 Z"/>
<ellipse class="p" cx="375" cy="1062" rx="4.8" ry="2.3"/>
<!-- pinion 20 -->
<clipPath id="p20c"><path d="M439.8 1128 A10.8 4.4 0 0 0 461.40000000000003 1128 V1139 A10.8 4.4 0 0 1 439.8 1139 Z"/></clipPath>
<path d="M439.8 1128 A10.8 4.4 0 0 0 461.40000000000003 1128 V1139 A10.8 4.4 0 0 1 439.8 1139 Z" fill="#3c3c3c" stroke="#2a2a2a" stroke-width="0.8"/>
<g clip-path="url(#p20c)" stroke="#fff" stroke-width="0.9"><path d="M441.6 1126 V1145"/><path d="M444.3 1126 V1145"/><path d="M447.3 1126 V1145"/><path d="M450.4 1126 V1145"/><path d="M453.5 1126 V1145"/><path d="M456.5 1126 V1145"/><path d="M459.2 1126 V1145"/></g>
<ellipse cx="450.6" cy="1128" rx="10.8" ry="4.4" fill="#fff" stroke="#333" stroke-width="1.5" stroke-dasharray="1.6 1"/>
<path class="p" d="M445.7 1111 V1128.5 Q450.5 1131 455.2 1128.5 V1111 Z"/>
<ellipse class="p" cx="450.5" cy="1111" rx="4.8" ry="2.5"/>
<!-- pinion 30 -->
<clipPath id="p30c"><path d="M405.29999999999995 1156 A10.6 4.2 0 0 0 426.5 1156 V1167.5 A10.6 4.2 0 0 1 405.29999999999995 1167.5 Z"/></clipPath>
<path d="M405.29999999999995 1156 A10.6 4.2 0 0 0 426.5 1156 V1167.5 A10.6 4.2 0 0 1 405.29999999999995 1167.5 Z" fill="#3c3c3c" stroke="#2a2a2a" stroke-width="0.8"/>
<g clip-path="url(#p30c)" stroke="#fff" stroke-width="0.9"><path d="M406.9 1154 V1173.5"/><path d="M409.6 1154 V1173.5"/><path d="M412.6 1154 V1173.5"/><path d="M415.7 1154 V1173.5"/><path d="M418.8 1154 V1173.5"/><path d="M421.8 1154 V1173.5"/><path d="M424.5 1154 V1173.5"/></g>
<ellipse cx="415.9" cy="1156" rx="10.6" ry="4.2" fill="#fff" stroke="#333" stroke-width="1.5" stroke-dasharray="1.6 1"/>
<path class="p" d="M408.3 1149 V1155 Q415.9 1159 423.5 1155 V1149 Z"/>
<ellipse class="p" cx="415.9" cy="1149" rx="7.6" ry="3"/>
<path class="p" d="M410.6 1131 V1150 Q415.4 1152.5 420.1 1150 V1131 Z"/>
<ellipse class="p" cx="415.4" cy="1131" rx="4.8" ry="2.3"/>
<path class="pn" d="M418.5 1143 l1.5 4"/>
<!--PARTS_END-->
</g>

<!-- LEADERS -->
<g class="ld">
<path d="M166.8 154.4V184.5M340 163V191.5M391.7 166V193.8M443.3 166.7H500M595 150H624.6"/>
<path d="M309.6 213.6L328.8 235.3M458 196.3H498.7M460.5 218.4H498.7M468 245.5H498.7M466.7 274.6H498"/>
<path d="M423.6 129.8H544.2V295.8H423.7M544.2 259.4H575"/>
<path d="M54.6 214.7V226M48.5 261.4V276M378.6 252.4H389M342 272.7H354.6M289.3 295.3H306.9M139 311H171"/>
<path d="M543 327.7L520.9 314.7M548 351.6L533 365M258.8 395.7H276.8M464.4 479.8H482M545 475H557"/>
<path d="M532.6 493.1H507.6V657.9H535.3M495.2 582H507.6M692.8 486.6H705M80.5 492.3H100.5"/>
<path d="M354.6 509V542M354.6 522.4H361.5M398.3 541.2H417.3M204.2 556H276.7M234 602H250M311.6 626.2H330.6"/>
<path d="M673.3 636.6H747.7M772.4 578V617.7M355 692.5L369.9 698.4M409.3 690.5H428M437.8 696.4V714M542.4 699.5H555.2"/>
<path d="M350.8 773.6H368M398.4 771.6H416M312 816.8H328.9M200.7 868.5H231.8L223 898.5M427 873.8H489.4M501.2 898.8H518"/>
<path d="M343.1 954.6L358.5 965.6M427 977.8L485.5 977.5L443 1005.6M328.5 1038.7L368.6 1015M425.5 1045.2H443M303.7 1089.8H322.6M460.9 1133.9H478.6M388 1157.5H406.3"/>
</g>

<!-- LABELS -->
<g class="lb">
<text transform="translate(159.30 147.65) scale(1 1.035)">8</text>
<text transform="translate(332.80 156.00) scale(1 1.035)">7</text>
<text transform="translate(375.30 159.65) scale(1 1.035)">28</text>
<text transform="translate(502.00 175.65) scale(1 1.035)">5</text>
<text transform="translate(629.80 156.90) scale(1 1.035)">4</text>
<text transform="translate(293.90 210.75) scale(1 1.035)">6</text>
<text transform="translate(514.70 201.95) scale(1 1.035)">3</text>
<text transform="translate(514.70 226.65) scale(1 1.035)">8</text>
<text transform="translate(514.90 253.75) scale(1 1.035)">6</text>
<text transform="translate(514.90 281.75) scale(1 1.035)">7</text>
<text transform="translate(589.00 263.90) scale(1 1.035)">2</text>
<text transform="translate(38.00 253.10) scale(1 1.035)">35</text>
<text transform="translate(349.00 259.40) scale(1 1.035)">27</text>
<text transform="translate(326.50 279.30) scale(1 1.035)">2</text>
<text transform="translate(257.70 302.90) scale(1 1.035)">24</text>
<text transform="translate(174.30 319.80) scale(1 1.035)">23</text>
<text transform="translate(549.50 344.90) scale(1 1.035)">34</text>
<text transform="translate(240.60 404.00) scale(1 1.035)">9</text>
<text transform="translate(486.40 485.00) scale(1 1.035)">4</text>
<text transform="translate(572.40 481.40) scale(1 1.035)">4</text>
<text transform="translate(720.80 493.10) scale(1 1.035)">0</text>
<text transform="translate(47.50 503.40) scale(1 1.035)">42</text>
<text transform="translate(361.40 530.30) scale(1 1.035)">36</text>
<text transform="translate(171.00 563.00) scale(1 1.035)">26</text>
<text transform="translate(479.30 590.80) scale(1 1.035)">2</text>
<text transform="translate(200.60 611.20) scale(1 1.035)">39</text>
<text transform="translate(292.70 635.50) scale(1 1.035)">3</text>
<text transform="translate(750.50 644.90) scale(1 1.035)">35</text>
<text transform="translate(326.60 688.80) scale(1 1.035)">3</text>
<text transform="translate(441.30 688.80) scale(1 1.035)">9</text>
<text transform="translate(569.40 705.20) scale(1 1.035)">5</text>
<text transform="translate(322.10 782.60) scale(1 1.035)">33</text>
<text transform="translate(418.30 778.00) scale(1 1.035)">37</text>
<text transform="translate(280.20 826.30) scale(1 1.035)">38</text>
<text transform="translate(235.50 865.20) scale(1 1.035)">22</text>
<text transform="translate(494.90 879.95) scale(1 1.035)">25</text>
<text transform="translate(313.00 960.00) scale(1 1.035)">29</text>
<text transform="translate(490.40 983.80) scale(1 1.035)">40</text>
<text transform="translate(299.30 1051.30) scale(1 1.035)">33</text>
<text transform="translate(446.50 1052.10) scale(1 1.035)">2</text>
<text transform="translate(271.80 1096.50) scale(1 1.035)">32</text>
<text transform="translate(483.20 1141.70) scale(1 1.035)">20</text>
<text transform="translate(358.30 1164.10) scale(1 1.035)">30</text>
</g>
<g fill="#1e1e1e"><path d="M795 0V1466H606Q520 1330 164 1114V852Q400 940 524 991V0Z" transform="translate(643.70 156.90) scale(0.012207 -0.012207)"/><path d="M795 0V1466H606Q520 1330 164 1114V852Q400 940 524 991V0Z" transform="translate(500.80 201.95) scale(0.012207 -0.012207)"/><path d="M795 0V1466H606Q520 1330 164 1114V852Q400 940 524 991V0Z" transform="translate(500.80 226.65) scale(0.012207 -0.012207)"/><path d="M795 0V1466H606Q520 1330 164 1114V852Q400 940 524 991V0Z" transform="translate(501.00 253.75) scale(0.012207 -0.012207)"/><path d="M795 0V1466H606Q520 1330 164 1114V852Q400 940 524 991V0Z" transform="translate(501.00 281.75) scale(0.012207 -0.012207)"/><path d="M795 0V1466H606Q520 1330 164 1114V852Q400 940 524 991V0Z" transform="translate(575.10 263.90) scale(0.012207 -0.012207)"/><path d="M795 0V1466H606Q520 1330 164 1114V852Q400 940 524 991V0Z" transform="translate(558.50 481.40) scale(0.012207 -0.012207)"/><path d="M795 0V1466H606Q520 1330 164 1114V852Q400 940 524 991V0Z" transform="translate(706.90 493.10) scale(0.012207 -0.012207)"/><path d="M795 0V1466H606Q520 1330 164 1114V852Q400 940 524 991V0Z" transform="translate(417.50 548.40) scale(0.012207 -0.012207)"/><path d="M795 0V1466H606Q520 1330 164 1114V852Q400 940 524 991V0Z" transform="translate(465.40 590.80) scale(0.012207 -0.012207)"/><path d="M795 0V1466H606Q520 1330 164 1114V852Q400 940 524 991V0Z" transform="translate(340.50 688.80) scale(0.012207 -0.012207)"/><path d="M795 0V1466H606Q520 1330 164 1114V852Q400 940 524 991V0Z" transform="translate(427.40 688.80) scale(0.012207 -0.012207)"/><path d="M795 0V1466H606Q520 1330 164 1114V852Q400 940 524 991V0Z" transform="translate(555.50 705.20) scale(0.012207 -0.012207)"/><path d="M795 0V1466H606Q520 1330 164 1114V852Q400 940 524 991V0Z" transform="translate(519.00 903.80) scale(0.012207 -0.012207)"/><path d="M795 0V1466H606Q520 1330 164 1114V852Q400 940 524 991V0Z" transform="translate(532.90 903.80) scale(0.012207 -0.012207)"/><path d="M795 0V1466H606Q520 1330 164 1114V852Q400 940 524 991V0Z" transform="translate(460.40 1052.10) scale(0.012207 -0.012207)"/></g>
</svg>
</body></html>
